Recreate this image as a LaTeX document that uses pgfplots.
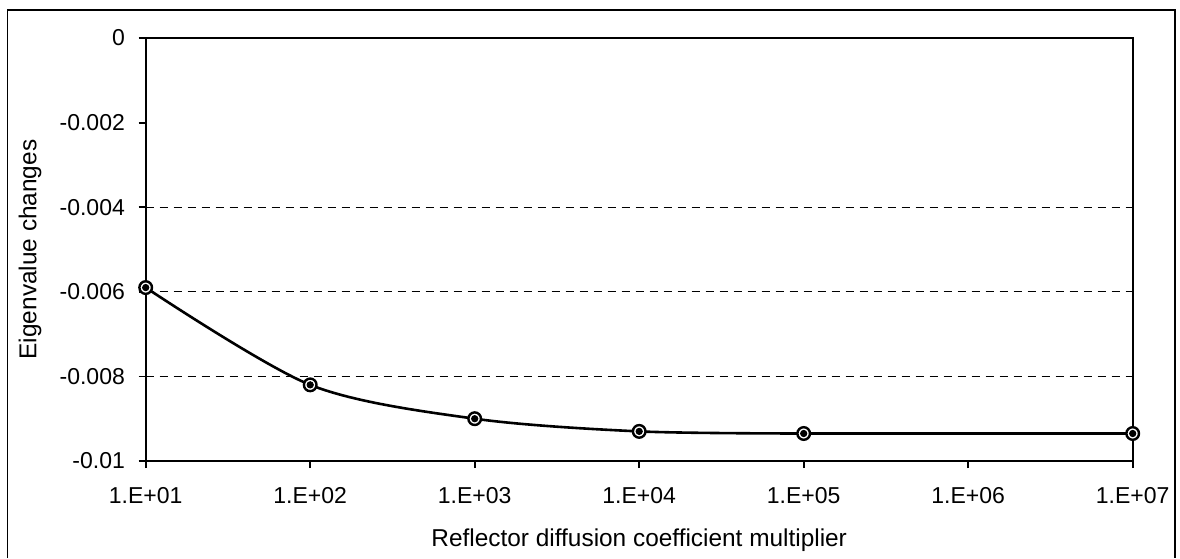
\documentclass[border=0pt]{standalone}
\usepackage{fontspec}
\setmainfont{Liberation Sans}
\usepackage{pgfplots}
\pgfplotsset{compat=1.18}
\begin{document}
\begin{tikzpicture}
\useasboundingbox (0pt,0pt) rectangle (590pt,279pt);
\draw[line width=0.7pt] (3.65pt,0pt) -- (3.65pt,274pt) -- (587.5pt,274pt) -- (587.5pt,0pt);
\begin{semilogxaxis}[
  at={(72.85pt,48.5pt)}, anchor=south west,
  scale only axis, width=493.5pt, height=211.5pt,
  xmin=10, xmax=1e7, ymin=-0.01, ymax=0,
  log basis x=10,
  scaled y ticks=false,
  xtick={1e1,1e2,1e3,1e4,1e5,1e6,1e7},
  xticklabels={1.E+01,1.E+02,1.E+03,1.E+04,1.E+05,1.E+06,1.E+07},
  ytick={0,-0.002,-0.004,-0.006,-0.008,-0.01},
  yticklabels={0,-0.002,-0.004,-0.006,-0.008,-0.01},
  minor xtick={}, minor ytick={},
  extra y ticks={-0.004,-0.006,-0.008},
  extra y tick labels={},
  extra y tick style={grid=major, major tick length=0pt},
  major grid style={black, dashed, line width=0.5pt, dash pattern=on 4pt off 3pt},
  tick align=outside, major tick length=3.5pt,
  xtick pos=bottom, ytick pos=left,
  axis line style={line width=1pt},
  every tick/.style={black, line width=0.9pt},
  xticklabel style={font=\fontsize{11.5}{13}\selectfont, yshift=-6pt},
  yticklabel style={font=\fontsize{11.5}{13}\selectfont, xshift=-3.4pt},
  xlabel={Reflector diffusion coefficient multiplier},
  ylabel={Eigenvalue changes},
  every axis x label/.style={at={(axis description cs:0.5,0)}, anchor=center, yshift=-39.5pt, font=\fontsize{12.2}{14}\selectfont},
  every axis y label/.style={at={(axis description cs:0,0.5)}, anchor=center, rotate=90, yshift=57.8pt, font=\fontsize{12.2}{14}\selectfont},
  clip=false,
]
\addplot[black, line width=1.3pt, smooth, tension=0.5, mark=none] coordinates {
  (1e1,-0.0059) (1e2,-0.0082) (1e3,-0.0090) (1e4,-0.0093) (1e5,-0.00935)
};
\addplot[black, line width=1.3pt, mark=none] coordinates {
  (1e5,-0.00935) (1e7,-0.00935)
};
\addplot[only marks, mark=*, mark size=3.15pt, mark options={draw=black, fill=white, line width=1.2pt}] coordinates {
  (1e1,-0.0059) (1e2,-0.0082) (1e3,-0.0090) (1e4,-0.0093) (1e5,-0.00935) (1e7,-0.00935)
};
\addplot[only marks, mark=*, mark size=1.6pt, mark options={draw=black, fill=black}] coordinates {
  (1e1,-0.0059) (1e2,-0.0082) (1e3,-0.0090) (1e4,-0.0093) (1e5,-0.00935) (1e7,-0.00935)
};
\end{semilogxaxis}
\end{tikzpicture}
\end{document}
